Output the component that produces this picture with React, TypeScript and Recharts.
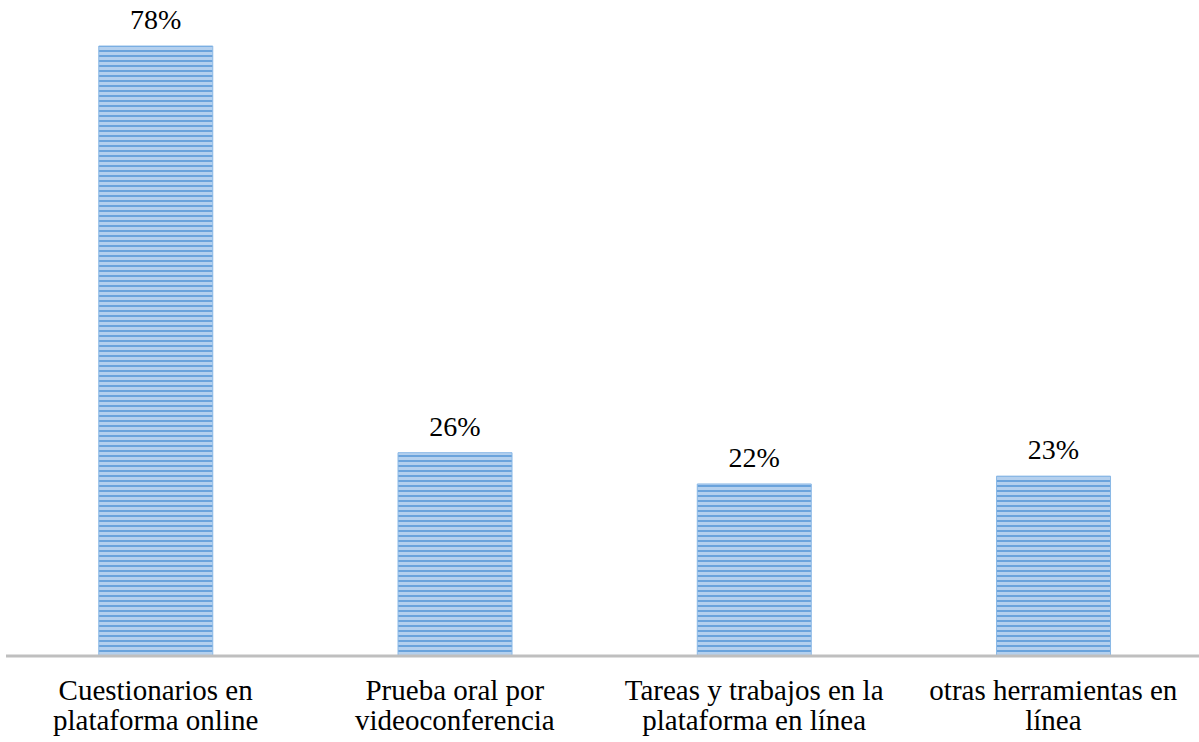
import React from "react";
import { BarChart, Bar, XAxis, YAxis, LabelList } from "recharts";

const categories = [
  "Cuestionarios en plataforma online",
  "Prueba oral por videoconferencia",
  "Tareas y trabajos en la plataforma en línea",
  "otras herramientas en línea",
];
const tickLines = [
  ["Cuestionarios en", "plataforma online"],
  ["Prueba oral por", "videoconferencia"],
  ["Tareas y trabajos en la", "plataforma en línea"],
  ["otras herramientas en", "línea"],
];
const values = [78, 26, 22, 23];

const data = categories.map((c, i) => ({ name: c, value: values[i] }));

const FONT = "'Liberation Serif', 'Times New Roman', serif";

const Tick = (props: any) => {
  const { x, index } = props;
  const lines = tickLines[index] || [];
  return (
    <g>
      <text x={x} y={700} textAnchor="middle" fontFamily={FONT} fontSize={29} fill="#000">
        {lines.map((l, i) => (
          <tspan key={i} x={x} y={700 + i * 30}>
            {l}
          </tspan>
        ))}
      </text>
    </g>
  );
};

const ValueLabel = (props: any) => {
  const { x, y, width, value } = props;
  return (
    <text x={x + width / 2} y={y - 17} textAnchor="middle" fontFamily={FONT} fontSize={28} fill="#000">
      {`${value}%`}
    </text>
  );
};

export default function App() {
  return (
    <div style={{ position: "absolute", left: 0, top: 0, width: 1199, height: 742, overflow: "hidden", background: "#fff" }}>
      <BarChart
        width={1210}
        height={742}
        data={data}
        margin={{ top: 30.4, right: 7, left: 6, bottom: 0 }}
        barCategoryGap="31%"
      >
        <defs>
          <pattern id="stripes" width="8" height="5" patternUnits="userSpaceOnUse">
            <rect x="0" y="0" width="8" height="5" fill="#b4d0ee" />
            <rect x="0" y="0" width="8" height="2" fill="#6aa3dc" />
          </pattern>
        </defs>
        <XAxis
          dataKey="name"
          height={86}
          axisLine={{ stroke: "#bfbfbf", strokeWidth: 3 }}
          tickLine={false}
          interval={0}
          tick={<Tick />}
        />
        <YAxis hide domain={[0, 80]} />
        <Bar dataKey="value" fill="url(#stripes)" stroke="#8ab8e6" strokeWidth={1} isAnimationActive={false}>
          <LabelList dataKey="value" content={<ValueLabel />} />
        </Bar>
      </BarChart>
    </div>
  );
}
